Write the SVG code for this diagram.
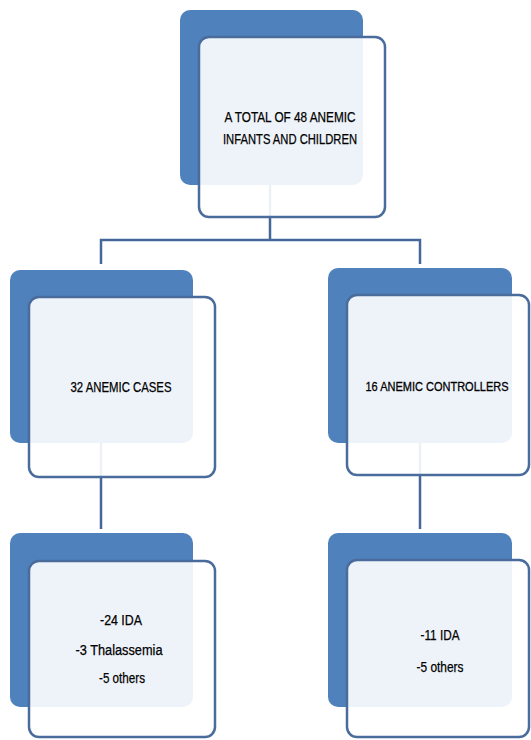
<svg xmlns="http://www.w3.org/2000/svg" width="531" height="740" viewBox="0 0 531 740">
<style>
.back{fill:#4f81bd;}
.front{fill:#ffffff;fill-opacity:0.9;stroke:#4a6c9c;stroke-width:2.5;}
.conn{fill:none;stroke:#46679a;stroke-width:2.5;}
.lbl{font-family:"Liberation Sans Narrow","Liberation Sans",Arial,sans-serif;font-size:14px;fill:#000000;text-anchor:middle;stroke:#000000;stroke-width:0.25;}
</style>
<rect width="531" height="740" fill="#ffffff"/>
<g id="connectors">
<polyline class="conn" points="270,185 270,240"/>
<polyline class="conn" points="101,264 101,240 420,240 420,264"/>
<polyline class="conn" points="101,443 101,529"/>
<polyline class="conn" points="420,443 420,529"/>
</g>
<g id="node-total">
<rect class="back" x="180" y="10" width="183" height="175" rx="10"/>
<rect class="front" x="199" y="37" width="186" height="180" rx="10"/>
<text class="lbl" x="290" y="122" textLength="131" lengthAdjust="spacingAndGlyphs">A TOTAL OF 48 ANEMIC</text>
<text class="lbl" x="290" y="144" textLength="134" lengthAdjust="spacingAndGlyphs">INFANTS AND CHILDREN</text>
</g>
<g id="node-cases">
<rect class="back" x="10" y="270" width="183" height="173" rx="10"/>
<rect class="front" x="29" y="297" width="186" height="180" rx="10"/>
<text class="lbl" x="121" y="392" textLength="101" lengthAdjust="spacingAndGlyphs">32 ANEMIC CASES</text>
</g>
<g id="node-controllers">
<rect class="back" x="328" y="268" width="184" height="175" rx="10"/>
<rect class="front" x="347" y="295" width="182" height="180" rx="10"/>
<text class="lbl" transform="translate(437,391) scale(1,1.23)" x="0" y="0" style="font-size:11px">16 ANEMIC CONTROLLERS</text>
</g>
<g id="node-cases-detail">
<rect class="back" x="10" y="533" width="183" height="174" rx="10"/>
<rect class="front" x="29" y="561" width="186" height="176" rx="10"/>
<text class="lbl" x="121" y="625" textLength="42" lengthAdjust="spacingAndGlyphs">-24  IDA</text>
<text class="lbl" x="119" y="655" textLength="87" lengthAdjust="spacingAndGlyphs">-3 Thalassemia</text>
<text class="lbl" x="122" y="683" textLength="46" lengthAdjust="spacingAndGlyphs">-5 others</text>
</g>
<g id="node-controllers-detail">
<rect class="back" x="328" y="533" width="184" height="174" rx="10"/>
<rect class="front" x="347" y="560" width="182" height="177" rx="10"/>
<text class="lbl" x="440" y="640" textLength="39" lengthAdjust="spacingAndGlyphs">-11 IDA</text>
<text class="lbl" x="440" y="672" textLength="47" lengthAdjust="spacingAndGlyphs">-5 others</text>
</g>
</svg>
